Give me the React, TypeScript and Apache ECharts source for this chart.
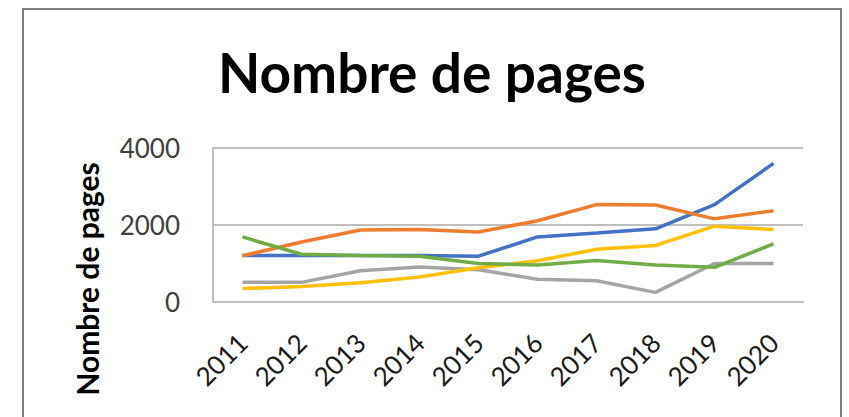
import React, { useEffect, useRef } from "react";
import * as echarts from "echarts";

const years = ["2011", "2012", "2013", "2014", "2015", "2016", "2017", "2018", "2019", "2020"];
const blueValues = [1210, 1210, 1210, 1210, 1190, 1690, 1790, 1900, 2530, 3600];
const orangeValues = [1200, 1560, 1870, 1880, 1820, 2110, 2530, 2520, 2160, 2370];
const grayValues = [510, 510, 810, 910, 840, 590, 550, 250, 1000, 1000];
const yellowValues = [350, 400, 500, 650, 890, 1070, 1370, 1470, 1970, 1880];
const greenValues = [1690, 1240, 1210, 1190, 1000, 960, 1080, 960, 900, 1510];
const yTicks = { min: 0, max: 4000, interval: 2000 };

const seriesDefs = [
  { name: "S1", data: blueValues, color: "#4472C4" },
  { name: "S2", data: orangeValues, color: "#ED7D31" },
  { name: "S3", data: grayValues, color: "#A5A5A5" },
  { name: "S4", data: yellowValues, color: "#FFC000" },
  { name: "S5", data: greenValues, color: "#70AD47" },
];

export default function App() {
  const ref = useRef<HTMLDivElement>(null);
  useEffect(() => {
    if (!ref.current) return;
    const chart = echarts.init(ref.current, undefined, { renderer: "svg" });
    chart.setOption({
      animation: false,
      backgroundColor: "#ffffff",
      grid: { left: 213, right: 46, top: 148, bottom: 115 },
      graphic: [
        {
          type: "rect",
          shape: { x: 23, y: 9, width: 818, height: 430 },
          style: { fill: "none", stroke: "#808080", lineWidth: 2 },
          silent: true,
        },
        {
          type: "text",
          x: 432,
          y: 72,
          style: {
            text: "Nombre de pages",
            font: "bold 55px Lato",
            fill: "#000000",
            align: "center",
            verticalAlign: "middle",
          },
        },
        {
          type: "text",
          x: 87,
          y: 279,
          rotation: Math.PI / 2,
          style: {
            text: "Nombre de pages",
            font: "bold 30px Lato",
            fill: "#000000",
            align: "center",
            verticalAlign: "middle",
          },
        },
      ],
      xAxis: {
        type: "category",
        data: years,
        boundaryGap: true,
        axisTick: { show: false },
        axisLine: { lineStyle: { color: "#BFBFBF", width: 2 } },
        axisLabel: {
          rotate: 45,
          margin: 36,
          fontFamily: "Lato",
          fontSize: 26,
          color: "#1a1a1a",
          interval: 0,
        },
      },
      yAxis: {
        type: "value",
        min: yTicks.min,
        max: yTicks.max,
        interval: yTicks.interval,
        axisLine: { show: true, lineStyle: { color: "#BFBFBF", width: 2 } },
        axisTick: { show: false },
        splitLine: { lineStyle: { color: "#BFBFBF", width: 2 } },
        axisLabel: {
          margin: 33,
          fontFamily: "Lato",
          fontSize: 26,
          color: "#404040",
          formatter: (v: number) => String(v),
        },
      },
      series: seriesDefs.map((s) => ({
        name: s.name,
        type: "line",
        data: s.data,
        symbol: "none",
        lineStyle: { color: s.color, width: 3.5 },
        itemStyle: { color: s.color },
      })),
    });
    return () => chart.dispose();
  }, []);
  return (
    <div
      ref={ref}
      style={{ position: "fixed", left: 0, top: 0, width: 849, height: 417 }}
    />
  );
}
